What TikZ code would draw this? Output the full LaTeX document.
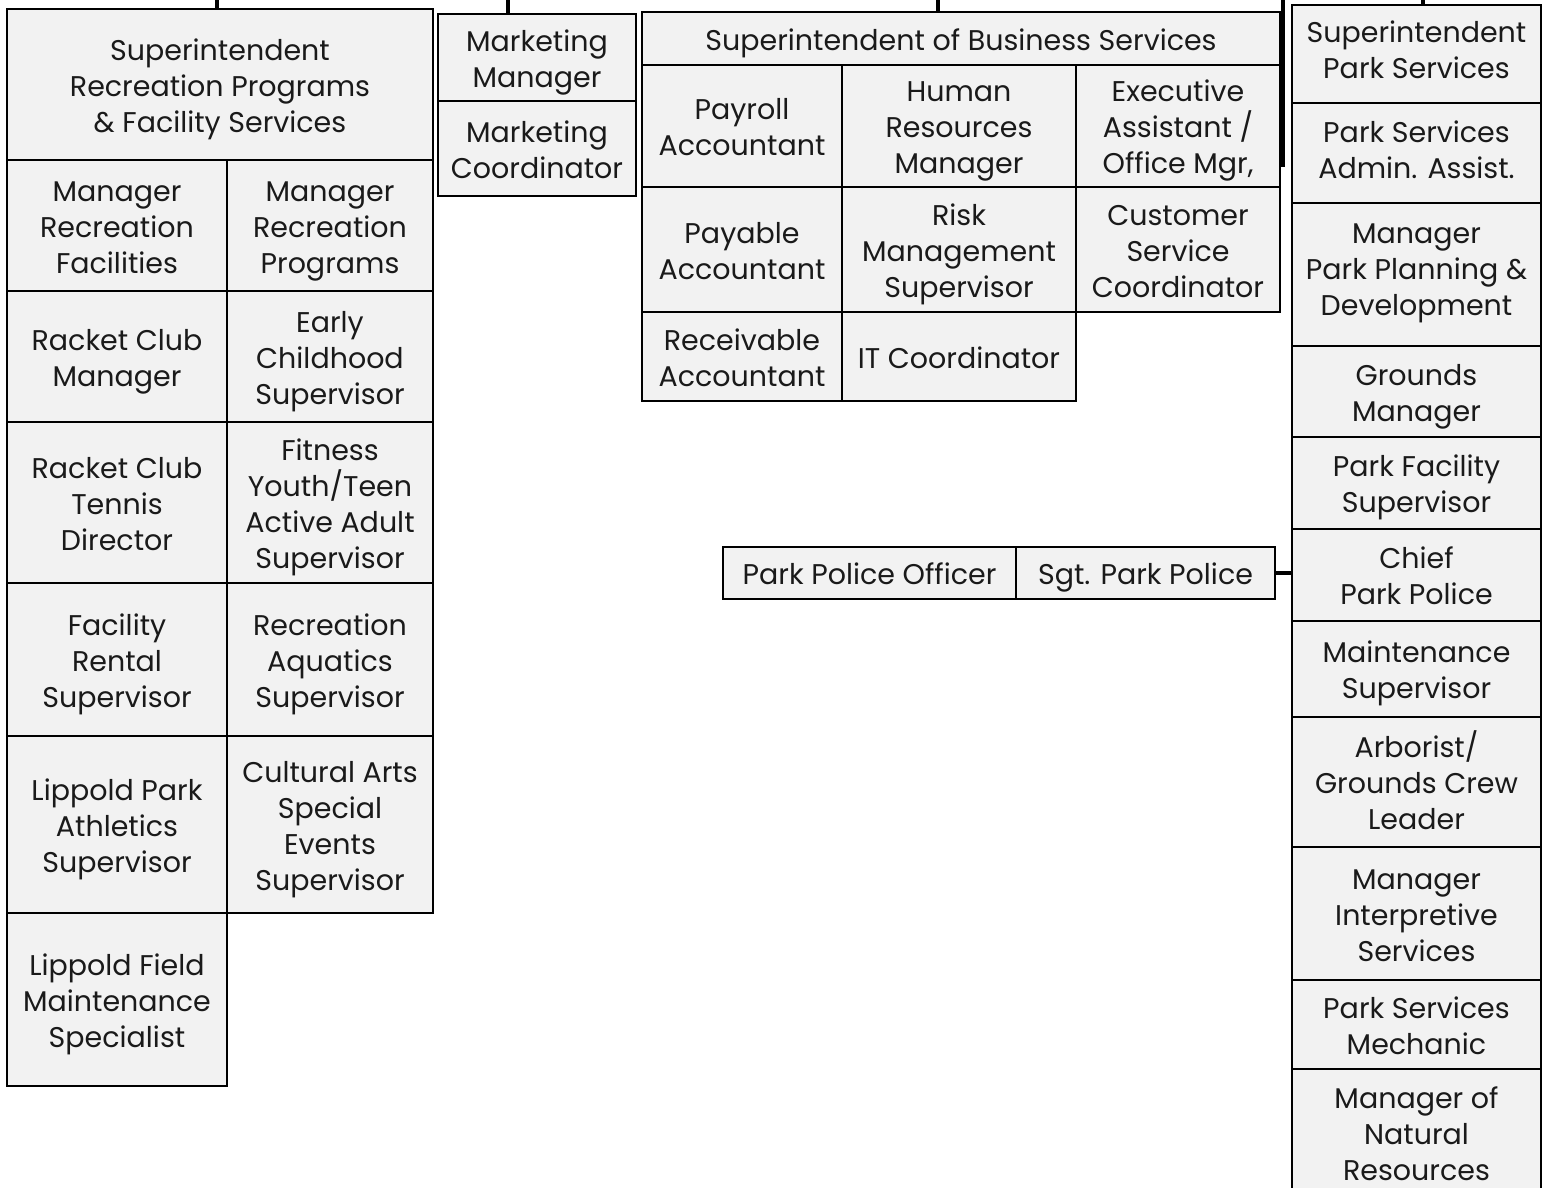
\documentclass[tikz,border=0pt]{standalone}
\usepackage{fontspec}
\setmainfont{Poppins}
\definecolor{cellfill}{HTML}{F2F2F2}
\definecolor{textc}{HTML}{1A1A1A}
\tikzset{
  cell/.style={draw=black, line width=2pt, fill=cellfill, text=textc, align=center,
    inner sep=0pt, font=\fontsize{28.5}{36}\selectfont},
  stub/.style={draw=black, line width=4.5pt},
}
% optional arg: depth below last baseline (larger = text higher)
\newcommand\cellbox[7][11]{%
  \node[cell, minimum width={#5pt-#3pt}, minimum height={#6pt-#4pt}]
    (#2) at ({(#3+#5)/2},{-(#4+#6)/2}) {\rule{0pt}{34pt}#7\rule[-#1pt]{0pt}{#1pt}};}
\begin{document}
\begin{tikzpicture}[x=1pt,y=1pt]
\useasboundingbox (0,0) rectangle (1548,-1187);
\clip (0,0) rectangle (1548,-1187);
% left block
\cellbox{suprec}{7}{9}{433}{160}{Superintendent\\Recreation Programs\\\& Facility Services}
\cellbox{mrf}{7}{160}{227}{291}{Manager\\Recreation\\Facilities}
\cellbox{mrp}{227}{160}{433}{291}{Manager\\Recreation\\Programs}
\cellbox{rcm}{7}{291}{227}{422}{Racket Club\\Manager}
\cellbox{ecs}{227}{291}{433}{422}{Early\\Childhood\\Supervisor}
\cellbox{rct}{7}{422}{227}{583}{Racket Club\\Tennis\\Director}
\cellbox{fyt}{227}{422}{433}{583}{Fitness\\Youth/Teen\\Active Adult\\Supervisor}
\cellbox{frs}{7}{583}{227}{736}{Facility\\Rental\\Supervisor}
\cellbox{ras}{227}{583}{433}{736}{Recreation\\Aquatics\\Supervisor}
\cellbox{lpa}{7}{736}{227}{913}{Lippold Park\\Athletics\\Supervisor}
\cellbox{cas}{227}{736}{433}{913}{Cultural Arts\\Special\\Events\\Supervisor}
\cellbox{lfm}{7}{913}{227}{1086}{Lippold Field\\Maintenance\\Specialist}
% marketing
\cellbox{mm}{438}{14}{636}{101}{Marketing\\Manager}
\cellbox{mc}{438}{101}{636}{196}{Marketing\\Coordinator}
% business
\cellbox{sbs}{642}{12}{1280}{65}{Superintendent of Business Services}
\cellbox{pay}{642}{65}{842}{187}{Payroll\\Accountant}
\cellbox{hrm}{842}{65}{1076}{187}{Human\\Resources\\Manager}
\cellbox{exa}{1076}{65}{1280}{187}{Executive\\Assistant /\\Office Mgr,}
\cellbox{pya}{642}{187}{842}{312}{Payable\\Accountant}
\cellbox{rms}{842}{187}{1076}{312}{Risk\\Management\\Supervisor}
\cellbox{csc}{1076}{187}{1280}{312}{Customer\\Service\\Coordinator}
\cellbox{rca}{642}{312}{842}{401}{Receivable\\Accountant}
\cellbox{itc}{842}{312}{1076}{401}{IT Coordinator}
% police
\cellbox{ppo}{723}{547}{1016}{599}{Park Police Officer}
\cellbox{sgt}{1016}{547}{1275}{599}{Sgt. Park Police}
% right column
\cellbox[21]{sps}{1292}{5}{1541}{103}{Superintendent\\Park Services}
\cellbox[19]{psa}{1292}{103}{1541}{203}{Park Services\\Admin. Assist.}
\cellbox[25]{mpp}{1292}{203}{1541}{346}{Manager\\Park Planning \&\\Development}
\cellbox{grm}{1292}{346}{1541}{437}{Grounds\\Manager}
\cellbox{pfs}{1292}{437}{1541}{529}{Park Facility\\Supervisor}
\cellbox{cpp}{1292}{529}{1541}{621}{Chief\\Park Police}
\cellbox{mns}{1292}{621}{1541}{717}{Maintenance\\Supervisor}
\cellbox{arb}{1292}{717}{1541}{847}{Arborist/\\Grounds Crew\\Leader}
\cellbox{mis}{1292}{847}{1541}{980}{Manager\\Interpretive\\Services}
\cellbox{psm}{1292}{980}{1541}{1069}{Park Services\\Mechanic}
\cellbox[4]{mnr}{1292}{1069}{1541}{1190}{Manager of\\Natural\\Resources}
% connectors
\coordinate (t1) at (217,0);
\coordinate (t2) at (508,0);
\coordinate (t3) at (938,0);
\coordinate (t4) at (1283,0);
\coordinate (t4e) at (1283,-167);
\coordinate (t5) at (1423,0);
\draw[stub] (t1) -- (t1 |- suprec.north);
\draw[stub] (t2) -- (t2 |- mm.north);
\draw[stub] (t3) -- (t3 |- sbs.north);
\draw[stub] (t4) -- (t4e);
\draw[stub] (t5) -- (t5 |- sps.north);
\draw[stub] (sgt.east) -- (sgt.east -| cpp.west);
\end{tikzpicture}
\end{document}
